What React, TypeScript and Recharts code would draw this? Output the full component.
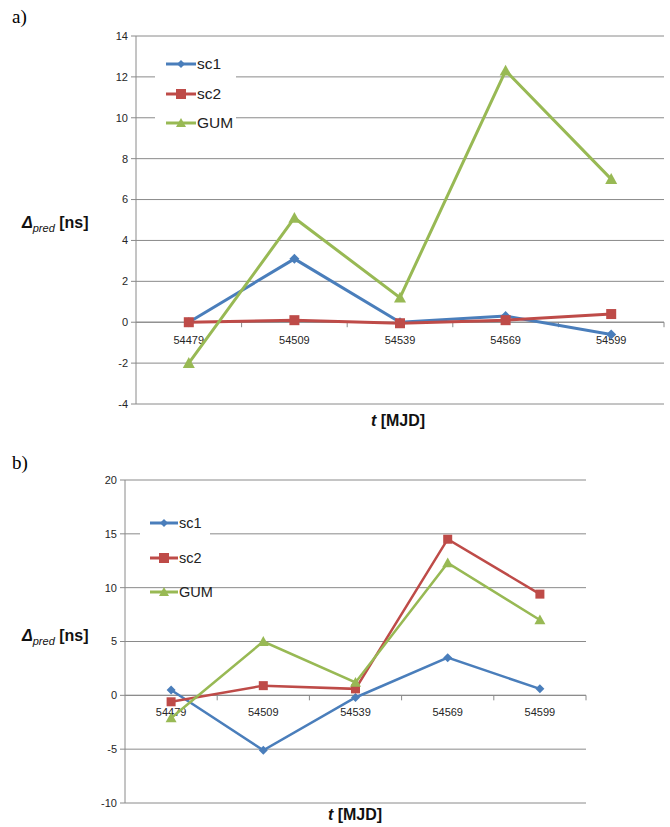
import React from "react";
import {
  LineChart,
  Line,
  XAxis,
  YAxis,
  CartesianGrid,
  ReferenceLine,
  Legend,
} from "recharts";

// MJD epochs
const categories = ["54479", "54509", "54539", "54569", "54599"];

// panel a)
const sc1A = [0, 3.1, 0, 0.3, -0.6];
const sc2A = [0, 0.1, -0.05, 0.1, 0.4];
const gumA = [-2, 5.1, 1.2, 12.3, 7.0];
const ticksA = [-4, -2, 0, 2, 4, 6, 8, 10, 12, 14];

// panel b)
const sc1B = [0.5, -5.1, -0.2, 3.5, 0.6];
const sc2B = [-0.6, 0.9, 0.6, 14.5, 9.4];
const gumB = [-2.1, 5.0, 1.2, 12.3, 7.0];
const ticksB = [-10, -5, 0, 5, 10, 15, 20];

const seriesNames = ["sc1", "sc2", "GUM"];

const BLUE = "#4a7ebb";
const RED = "#be4b48";
const GREEN = "#98b954";
const GRID = "#8a8a8a";
const FONT = "'Liberation Sans', Arial, sans-serif";

const toRows = (a: number[], b: number[], c: number[]) =>
  categories.map((t, i) => ({ t, sc1: a[i], sc2: b[i], GUM: c[i] }));

const dataA = toRows(sc1A, sc2A, gumA);
const dataB = toRows(sc1B, sc2B, gumB);

const Diamond = (s: number) => (p: any) => {
  const { cx, cy, index } = p;
  if (cx == null || cy == null) return <g key={index} />;
  return (
    <polygon
      key={index}
      points={`${cx},${cy - s} ${cx + s},${cy} ${cx},${cy + s} ${cx - s},${cy}`}
      fill={BLUE}
    />
  );
};

const Square = (s: number) => (p: any) => {
  const { cx, cy, index } = p;
  if (cx == null || cy == null) return <g key={index} />;
  return <rect key={index} x={cx - s} y={cy - s} width={s * 2} height={s * 2} fill={RED} />;
};

const Triangle = (s: number) => (p: any) => {
  const { cx, cy, index } = p;
  if (cx == null || cy == null) return <g key={index} />;
  return (
    <polygon
      key={index}
      points={`${cx},${cy - s} ${cx + s},${cy + s * 0.8} ${cx - s},${cy + s * 0.8}`}
      fill={GREEN}
    />
  );
};

// zero line acting as the category axis, ticks between bands
const zeroAxis = (labelDy: number) => (props: any) => {
  const { x1, y1, x2 } = props;
  const w = (x2 - x1) / categories.length;
  return (
    <g>
      <line x1={x1} y1={y1} x2={x2} y2={y1} stroke={GRID} strokeWidth={1} />
      {categories.map((_, i) => (
        <line
          key={"t" + i}
          x1={x1 + w * (i + 1)}
          x2={x1 + w * (i + 1)}
          y1={y1}
          y2={y1 + 5}
          stroke={GRID}
        />
      ))}
      {categories.map((c, i) => (
        <text
          key={"l" + i}
          x={x1 + w * (i + 0.5)}
          y={y1 + labelDy}
          textAnchor="middle"
          fontSize={11}
          fontFamily={FONT}
          fill="#262626"
        >
          {c}
        </text>
      ))}
    </g>
  );
};

const legendContent = (gap: number, size: number, fontSize: number) => () => {
  const colors = [BLUE, RED, GREEN];
  const marks = [
    <polygon key="d" points="15,1 19,5 15,9 11,5" fill={BLUE} />,
    <rect key="s" x={10} y={0} width={10} height={10} fill={RED} />,
    <polygon key="t" points="15,0 20,9 10,9" fill={GREEN} />,
  ];
  return (
    <div style={{ position: "relative", width: 70, height: 60 }}>
      {seriesNames.map((n, i) => (
        <div
          key={n}
          style={{
            position: "absolute",
            left: 0,
            top: i * gap,
            display: "flex",
            alignItems: "center",
            fontFamily: FONT,
            fontSize,
            color: "#222",
          }}
        >
          <svg width={size} height={10} style={{ overflow: "visible" }}>
            <line x1={0} y1={5} x2={size} y2={5} stroke={colors[i]} strokeWidth={3} />
            <g transform={`translate(${size / 2 - 15},0)`}>{marks[i]}</g>
          </svg>
          <span style={{ marginLeft: 1 }}>{n}</span>
        </div>
      ))}
    </div>
  );
};

const YLabel = ({ left, top }: { left: number; top: number }) => (
  <div
    style={{
      position: "absolute",
      left,
      top,
      fontFamily: FONT,
      fontWeight: "bold",
      fontSize: 16,
      color: "#111",
      whiteSpace: "nowrap",
    }}
  >
    <i>Δ</i>
    <i style={{ fontSize: 11, fontWeight: "normal", position: "relative", top: 4 }}>pred</i>
    {" [ns]"}
  </div>
);

const XLabel = ({ cx, top }: { cx: number; top: number }) => (
  <div
    style={{
      position: "absolute",
      left: cx - 50,
      width: 100,
      textAlign: "center",
      top,
      fontFamily: FONT,
      fontWeight: "bold",
      fontSize: 16,
      color: "#111",
    }}
  >
    <i>t</i> [MJD]
  </div>
);

const Panel = ({ title, top }: { title: string; top: number }) => (
  <div
    style={{
      position: "absolute",
      left: 12,
      top,
      fontFamily: "'Liberation Serif', 'Times New Roman', serif",
      fontSize: 19,
    }}
  >
    {title}
  </div>
);

const tickStyle = { fontSize: 11, fontFamily: FONT, fill: "#262626" };

export default function App() {
  return (
    <div
      style={{
        position: "absolute",
        left: 0,
        top: 0,
        width: 670,
        height: 827,
        background: "#fff",
      }}
    >
      <Panel title="a)" top={6} />
      <div style={{ position: "absolute", left: 0, top: 0 }}>
        <LineChart width={670} height={420} data={dataA} margin={{ top: 36, right: 6, bottom: 16, left: 0 }}>
          <CartesianGrid vertical={false} stroke={GRID} />
          <XAxis dataKey="t" scale="band" hide />
          <YAxis
            width={136}
            domain={[-4, 14]}
            ticks={ticksA}
            interval={0}
            stroke={GRID}
            tickSize={5}
            tickMargin={3}
            tick={tickStyle}
          />
          <ReferenceLine y={0} shape={zeroAxis(22)} />
          <Legend
            align="center"
            verticalAlign="middle"
            content={legendContent(29.5, 30, 15.5)}
            wrapperStyle={{ left: 155, top: 50, width: 81, height: 69, background: "#fff", paddingTop: 5, paddingLeft: 11, boxSizing: "border-box" }}
          />
          <Line dataKey="sc1" stroke={BLUE} strokeWidth={3} dot={Diamond(5)} isAnimationActive={false} />
          <Line dataKey="sc2" stroke={RED} strokeWidth={3} dot={Square(5)} isAnimationActive={false} />
          <Line dataKey="GUM" stroke={GREEN} strokeWidth={3} dot={Triangle(6)} isAnimationActive={false} />
        </LineChart>
      </div>
      <YLabel left={22} top={214} />
      <XLabel cx={398} top={412} />

      <Panel title="b)" top={452} />
      <div style={{ position: "absolute", left: 0, top: 440 }}>
        <LineChart width={670} height={387} data={dataB} margin={{ top: 40, right: 84, bottom: 24, left: 0 }}>
          <CartesianGrid vertical={false} stroke={GRID} />
          <XAxis dataKey="t" scale="band" hide />
          <YAxis
            width={125}
            domain={[-10, 20]}
            ticks={ticksB}
            interval={0}
            stroke={GRID}
            tickSize={5}
            tickMargin={3}
            tick={tickStyle}
          />
          <ReferenceLine y={0} shape={zeroAxis(21)} />
          <Legend
            align="center"
            verticalAlign="middle"
            content={legendContent(34.5, 28, 14.5)}
            wrapperStyle={{ left: 140, top: 66, width: 70, height: 70, background: "#fff", paddingTop: 9, paddingLeft: 10, boxSizing: "border-box" }}
          />
          <Line dataKey="sc1" stroke={BLUE} strokeWidth={2.5} dot={Diamond(4.5)} isAnimationActive={false} />
          <Line dataKey="sc2" stroke={RED} strokeWidth={2.5} dot={Square(4.5)} isAnimationActive={false} />
          <Line dataKey="GUM" stroke={GREEN} strokeWidth={2.5} dot={Triangle(5.5)} isAnimationActive={false} />
        </LineChart>
      </div>
      <YLabel left={22} top={627} />
      <XLabel cx={355} top={806} />
    </div>
  );
}
